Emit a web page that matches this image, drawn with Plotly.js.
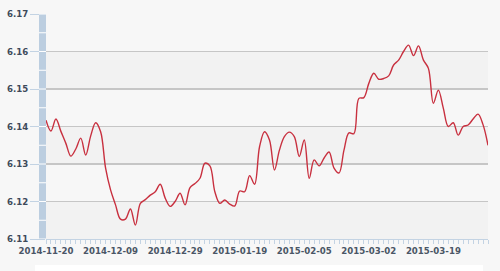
<!DOCTYPE html>
<html>
<head>
<meta charset="utf-8">
<script src="https://cdn.plot.ly/plotly-3.0.1.min.js"></script>
<style>html,body{margin:0;padding:0;background:#f7f7f7;}#chart{width:500px;height:271px;}</style>
</head>
<body>
<div id="chart"></div>
<script>
// Daily rate values (one per trading day)
const rateValues = [
  6.1417, 6.1388, 6.1420, 6.1387, 6.1355, 6.1321, 6.1340, 6.1369, 6.1324, 6.1375,
  6.1410, 6.1386, 6.1289, 6.1231, 6.1191, 6.1153, 6.1153, 6.1180, 6.1137, 6.1195,
  6.1205, 6.1217, 6.1226, 6.1246, 6.1209, 6.1187, 6.1200, 6.1222, 6.1191, 6.1237,
  6.1248, 6.1262, 6.1302, 6.1295, 6.1226, 6.1195, 6.1204, 6.1193, 6.1188, 6.1228,
  6.1226, 6.1269, 6.1246, 6.1346, 6.1386, 6.1364, 6.1284, 6.1337, 6.1373, 6.1385,
  6.1373, 6.1320, 6.1364, 6.1262, 6.1311, 6.1295, 6.1316, 6.1332, 6.1289, 6.1276,
  6.1337, 6.1383, 6.1381, 6.1475, 6.1477, 6.1515, 6.1542, 6.1526, 6.1528, 6.1535,
  6.1564, 6.1577, 6.1600, 6.1617, 6.1589, 6.1615, 6.1577, 6.1555, 6.1462, 6.1497,
  6.1449, 6.1400, 6.1410, 6.1377, 6.1400, 6.1404, 6.1420, 6.1433, 6.1405, 6.1350
];
// Labelled categories (index of trading day -> date label)
const tickIndex = [0, 13, 26, 39, 52, 65, 78];
const tickLabels = ["2014-11-20", "2014-12-09", "2014-12-29", "2015-01-19", "2015-02-05", "2015-03-02", "2015-03-19"];
const yTicks = [6.11, 6.12, 6.13, 6.14, 6.15, 6.16, 6.17];

const xIdx = rateValues.map((_, i) => i);

const shapes = [];
// alternating plot bands
for (let k = 0; k < yTicks.length - 1; k++) {
  shapes.push({type:'rect', xref:'paper', yref:'y', x0:0, x1:1, y0:yTicks[k], y1:yTicks[k+1],
    fillcolor: (k % 2 === 0) ? '#f2f2f2' : '#f7f7f7', line:{width:0}, layer:'below'});
}
// blue bar left of plot
const barW = 7/442;
shapes.push({type:'rect', xref:'paper', yref:'y', x0:-barW, x1:0, y0:6.11, y1:6.17,
  fillcolor:'#bccee0', line:{width:0}, layer:'above'});
for (let v = 6.11; v <= 6.1701; v += 0.005) {
  shapes.push({type:'line', xref:'paper', yref:'y', x0:-barW, x1:0, y0:v, y1:v,
    line:{color:'#ffffff', width:1}, layer:'above'});
}
// white strip at bottom
shapes.push({type:'rect', xref:'paper', yref:'paper', x0:-11/442, x1:437/442, y0:-26/225, y1:-40/225,
  fillcolor:'#ffffff', line:{width:0}, layer:'below'});

const trace = {
  x: xIdx, y: rateValues, type:'scatter', mode:'lines',
  line:{color:'#c8303f', width:1.4, shape:'spline', smoothing:1},
  hoverinfo:'none'
};

const layout = {
  width:500, height:271,
  margin:{l:46, r:12, t:14, b:32, pad:0},
  paper_bgcolor:'#f7f7f7', plot_bgcolor:'#f7f7f7',
  showlegend:false,
  xaxis:{
    range:[0, 89], tickmode:'array', tickvals:tickIndex, ticktext:tickLabels,
    ticks:'outside', ticklen:4, tickcolor:'#c3d3e3', tickwidth:1,
    minor:{tickmode:'linear', tick0:0, dtick:1, ticks:'outside', ticklen:4, tickcolor:'#c3d3e3', tickwidth:1},
    showgrid:false, zeroline:false, showline:true, linecolor:'#c3d3e3', linewidth:1,
    tickfont:{family:'DejaVu Sans', size:8.6, color:'#4a5666', weight:'bold'},
    fixedrange:true
  },
  yaxis:{
    range:[6.11, 6.17], tickmode:'array', tickvals:yTicks, ticktext:yTicks.map(v=>v.toFixed(2)),
    ticks:'outside', ticklen:15, tickcolor:'#c3d3e3', tickwidth:1,
    showgrid:true, gridcolor:'#c6c6c6', gridwidth:1.5, zeroline:false, showline:false,
    tickfont:{family:'DejaVu Sans', size:8.6, color:'#3e4a5a', weight:'bold'},
    fixedrange:true
  },
  shapes: shapes
};

Plotly.newPlot('chart', [trace], layout, {displayModeBar:false, staticPlot:true});
</script>
</body>
</html>
